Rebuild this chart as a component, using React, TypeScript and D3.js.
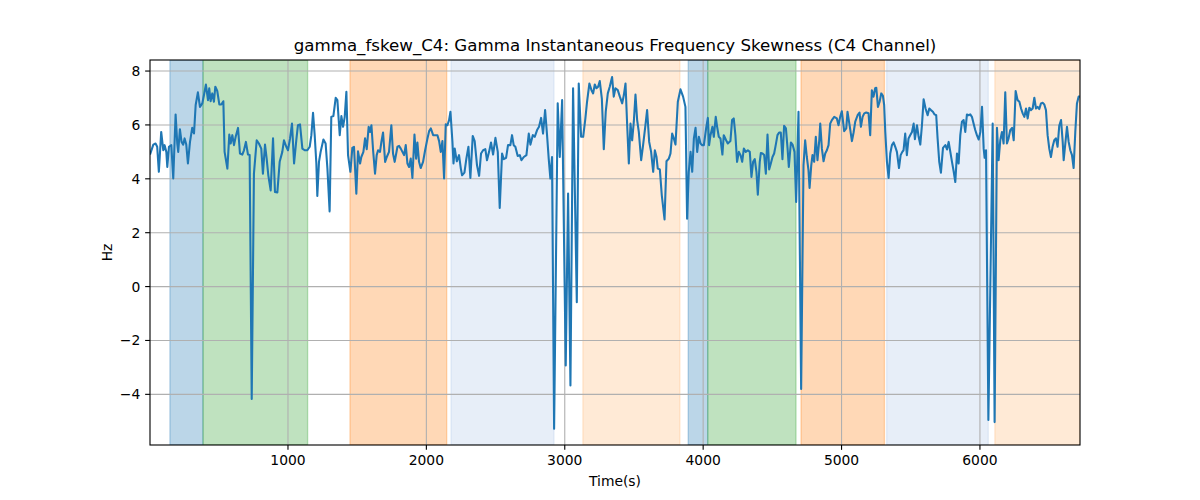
import React from "react";
import * as d3 from "d3";

// ---- data ----
const timeS: number[] = [
  3, 27, 43, 55, 67, 84, 99, 108, 121, 128,
  140, 157, 171, 188, 200, 207, 219, 231, 243, 253,
  265, 277, 292, 308, 321, 333, 349, 364, 381, 393,
  407, 422, 431, 441, 453, 465, 475, 489, 504, 518,
  533, 542, 562, 576, 586, 598, 610, 622, 639, 653,
  670, 682, 696, 711, 723, 738, 754, 774, 790, 807,
  819, 834, 846, 858, 875, 892, 906, 923, 940, 959,
  971, 988, 1000, 1015, 1029, 1044, 1060, 1072, 1087, 1104,
  1121, 1140, 1157, 1169, 1181, 1193, 1205, 1212, 1224, 1236,
  1256, 1272, 1285, 1301, 1313, 1328, 1345, 1357, 1374, 1386,
  1398, 1410, 1422, 1434, 1451, 1465, 1477, 1494, 1506, 1521,
  1530, 1545, 1557, 1569, 1583, 1593, 1603, 1615, 1629, 1641,
  1651, 1665, 1675, 1687, 1702, 1714, 1730, 1747, 1759, 1771,
  1791, 1803, 1815, 1839, 1851, 1863, 1875, 1887, 1899, 1914,
  1926, 1935, 1947, 1959, 1976, 1991, 2008, 2020, 2032, 2049,
  2063, 2080, 2092, 2104, 2116, 2128, 2140, 2152, 2164, 2174,
  2188, 2196, 2205, 2220, 2236, 2249,
  2258, 2275, 2289, 2304, 2318, 2335, 2349, 2366, 2381, 2395,
  2410, 2426, 2438, 2453, 2467, 2482, 2499, 2516, 2530, 2547,
  2559, 2576, 2590, 2607, 2619, 2631, 2643, 2660, 2675, 2687,
  2704, 2723, 2740, 2752, 2769, 2783, 2800, 2814, 2829, 2843,
  2858, 2872, 2884, 2896, 2908, 2923, 2949, 2964, 2981, 3007,
  3024, 3041, 3060, 3087, 3101, 3118, 3133, 3149, 3161, 3178,
  3193, 3205, 3217, 3229, 3241, 3253, 3268, 3282, 3296, 3311,
  3325, 3342, 3354, 3366, 3383, 3398, 3415, 3427, 3439, 3451,
  3463, 3475, 3487, 3499, 3511, 3523, 3535, 3552, 3566, 3583,
  3595, 3610, 3624, 3639, 3651, 3663, 3672, 3687, 3701, 3721,
  3735, 3752, 3764, 3776, 3788, 3800, 3817, 3836, 3855, 3872,
  3884, 3896, 3909, 3921, 3933, 3945, 3957, 3969, 3981, 3993,
  4005, 4022, 4034, 4043, 4053, 4067, 4077, 4091, 4101, 4113,
  4125, 4139, 4149, 4166, 4178, 4197, 4209, 4221, 4233, 4245,
  4258, 4270, 4282, 4294, 4308, 4323, 4337, 4349, 4361, 4373,
  4385, 4395, 4409,
  4417, 4429, 4441, 4453, 4465, 4477, 4489, 4501, 4513, 4525,
  4537, 4549, 4561, 4573, 4585, 4598, 4610, 4619, 4634, 4646,
  4660, 4672, 4689, 4708, 4725, 4737, 4749, 4761, 4769, 4781,
  4790, 4802, 4814, 4826, 4839, 4846, 4858, 4870, 4882, 4894,
  4906, 4918, 4930, 4947, 4966, 4978, 4990, 5002, 5019, 5034,
  5043, 5058, 5075, 5087, 5099, 5116, 5130, 5140, 5152, 5164,
  5178, 5195, 5207, 5219, 5231, 5243, 5251, 5263, 5275, 5287,
  5299, 5308, 5316, 5328, 5340, 5352, 5364, 5376, 5388, 5400,
  5415, 5427, 5439, 5448, 5460, 5472, 5484, 5496, 5509, 5521,
  5530, 5545, 5557, 5569, 5581, 5593, 5607, 5622, 5634, 5646,
  5660, 5672, 5684, 5694, 5706, 5718, 5733, 5750, 5762, 5774,
  5786, 5798, 5810, 5822, 5834, 5846, 5858, 5870, 5882, 5894,
  5906, 5918, 5930, 5942, 5954, 5966, 5978, 5991, 6003, 6015,
  6027, 6034, 6044, 6061, 6092, 6106, 6123, 6135, 6147, 6159,
  6171, 6183, 6195, 6207, 6219, 6232, 6244, 6258, 6272, 6285,
  6297, 6309, 6321, 6333, 6345, 6357, 6369, 6381, 6393, 6405,
  6417, 6429, 6441, 6453, 6465, 6477, 6489, 6501, 6513, 6525,
  6537, 6549, 6561, 6573, 6586, 6598, 6605, 6617, 6629, 6641,
  6653, 6665, 6677, 6689, 6701, 6713, 6722,
];

const skewHz: number[] = [
  4.90, 5.27, 5.31, 5.19, 4.26, 5.74, 5.06, 5.25, 5.00, 4.44,
  5.19, 5.25, 4.01, 6.39, 5.31, 5.00, 5.84, 5.37, 5.27, 5.50,
  5.27, 4.57, 5.37, 5.89, 5.68, 6.74, 7.21, 6.67, 6.80, 7.11,
  7.50, 6.92, 7.36, 6.88, 7.17, 6.86, 7.42, 7.26, 6.76, 6.76,
  6.88, 5.00, 4.38, 5.64, 5.31, 5.62, 5.25, 5.56, 5.89, 4.94,
  4.90, 5.06, 5.37, 4.90, 4.88, -4.17, 4.19, 5.43, 5.31, 5.12,
  4.19, 5.27, 4.75, 4.13, 3.57, 5.50, 3.51, 3.49, 4.63, 5.00,
  5.43, 5.19, 5.06, 5.50, 6.05, 4.57, 5.43, 5.99, 6.02, 5.12,
  5.06, 5.06, 5.19, 5.62, 6.45, 5.62, 4.57, 3.36, 4.63, 5.00,
  5.46, 5.31, 4.38, 2.79, 6.30, 6.33, 7.01, 6.92, 5.62, 6.33,
  5.93, 6.30, 7.23, 4.88, 4.26, 5.15, 5.19, 3.45, 5.02, 4.57,
  4.81, 5.00, 5.50, 5.10, 5.93, 5.74, 5.99, 5.06, 4.19, 4.88,
  5.06, 5.00, 5.37, 5.72, 4.63, 4.81, 5.00, 5.99, 4.94, 4.63,
  5.19, 5.22, 5.12, 4.88, 5.25, 4.57, 4.44, 4.75, 4.03, 5.64,
  4.75, 5.35, 4.63, 4.40, 4.63, 5.06, 5.50, 5.77, 5.87, 5.62,
  5.62, 5.62, 5.40, 5.00, 5.40, 4.01, 6.02, 5.99, 6.18, 6.49,
  5.40, 4.57, 5.12, 4.65, 4.88, 4.38,
  4.13, 4.23, 4.75, 5.19, 4.03, 5.59, 5.40, 4.50, 4.11, 4.94,
  5.06, 5.10, 4.69, 5.00, 5.35, 4.90, 5.52, 5.00, 2.92, 4.94,
  4.73, 4.78, 5.25, 5.25, 5.62, 5.25, 5.19, 4.85, 4.88, 4.69,
  4.81, 4.88, 5.68, 5.27, 5.62, 5.56, 5.81, 5.93, 6.26, 5.68,
  6.55, 5.62, 4.75, 4.01, 4.81, -5.28, 6.80, 4.81, 6.92, -2.93,
  3.45, -3.67, 7.36, -0.58, 7.54, 5.56, 5.56, 6.24, 6.86, 7.54,
  7.29, 7.17, 7.50, 7.36, 7.42, 7.63, 6.98, 5.10, 6.49, 7.17,
  7.42, 7.78, 7.05, 7.36, 7.29, 7.05, 6.80, 7.11, 7.54, 5.99,
  4.57, 6.05, 5.43, 6.12, 7.13, 6.18, 5.74, 4.69, 5.25, 5.99,
  6.55, 5.37, 5.00, 4.26, 5.06, 4.81, 4.38, 4.35, 3.39, 2.49,
  4.65, 4.75, 4.94, 5.68, 5.50, 5.27, 6.86, 7.32, 7.05, 6.67,
  2.52, 4.26, 5.00, 4.26, 5.50, 5.89, 5.00, 5.56, 5.31, 5.25,
  5.25, 5.89, 6.26, 5.25, 5.62, 5.93, 5.56, 6.30, 5.93, 5.56,
  5.50, 4.90, 5.62, 5.43, 5.31, 5.40, 6.18, 6.24, 5.62, 4.63,
  5.00, 4.88, 4.63, 5.12, 5.00, 5.06, 5.00, 4.07, 4.63, 4.73,
  4.26, 3.41, 4.63,
  4.96, 4.94, 4.88, 4.19, 5.64, 4.35, 4.57, 4.81, 4.94, 5.27,
  5.62, 5.72, 5.72, 4.73, 5.97, 5.87, 5.12, 4.44, 5.35, 5.27,
  5.00, 3.14, 6.49, -3.80, 4.50, 5.43, 4.81, 4.32, 3.66, 4.50,
  4.88, 4.63, 5.56, 4.69, 5.43, 6.05, 5.12, 4.65, 4.94, 5.06,
  5.25, 6.05, 6.18, 6.30, 6.24, 5.99, 6.30, 6.51, 5.77, 5.87,
  6.49, 5.99, 5.40, 5.72, 6.12, 6.36, 6.46, 5.93, 6.30, 6.43,
  6.46, 6.43, 5.62, 7.29, 7.05, 7.36, 7.38, 6.67, 6.86, 7.17,
  7.08, 6.74, 5.74, 4.63, 4.03, 4.94, 5.25, 5.35, 5.19, 5.00,
  4.40, 4.88, 5.00, 5.06, 5.68, 4.88, 5.50, 5.62, 5.74, 6.05,
  5.47, 5.99, 5.56, 5.27, 5.99, 6.95, 6.61, 6.36, 6.61, 6.55,
  6.49, 6.39, 6.36, 5.50, 4.63, 4.23, 5.15, 5.25, 5.09, 5.37,
  5.00, 4.63, 4.28, 3.88, 4.94, 4.57, 5.62, 6.12, 6.18, 5.74,
  6.39, 6.36, 6.39, 6.30, 6.05, 5.81, 5.62, 5.46, 5.74, 6.67,
  5.12, 4.78, 5.06, -4.95, 6.05, -5.03, 5.89, 4.69, 5.43, 5.74,
  5.31, 7.21, 5.31, 5.50, 5.81, 5.89, 5.43, 7.26, 6.92, 6.86,
  6.61, 6.43, 6.30, 6.61, 6.24, 6.64, 6.55, 6.61, 7.01, 6.61,
  6.67, 6.59, 6.80, 6.82, 6.76, 6.55, 5.62, 5.12, 4.81, 5.19,
  5.43, 5.50, 5.19, 5.97, 6.18, 5.37, 4.69, 5.31, 5.93, 5.37,
  5.06, 4.88, 4.40, 5.74, 6.80, 7.05, 7.05,
];

// shaded phases (start/end in seconds, kind index)
const spanStart: number[] = [147, 386, 1448, 2178, 3131, 3892, 4033, 4707, 5326, 6108];
const spanEnd: number[] = [386, 1142, 2147, 2922, 3832, 4033, 4671, 5310, 6060, 6722];
const spanKind: number[] = [0, 1, 2, 3, 4, 0, 1, 2, 3, 4];

const xTicks: number[] = [1000, 2000, 3000, 4000, 5000, 6000];
const yTicks: number[] = [-4, -2, 0, 2, 4, 6, 8];

const xDomain: [number, number] = [3, 6723];
const yDomain: [number, number] = [-5.88, 8.41];

const KIND_COLORS = ["#1f77b4", "#2ca02c", "#ff7f0e", "#aec7e8", "#ffbb78"];

const W = 1200;
const H = 500;
const M = { left: 150, right: 1080, top: 60, bottom: 445 };
const FONT = "'DejaVu Sans', sans-serif";

export default function App() {
  const x = d3.scaleLinear().domain(xDomain).range([M.left, M.right]);
  const y = d3.scaleLinear().domain(yDomain).range([M.bottom, M.top]);
  const fmt = d3.format("d");

  const pts: [number, number][] = timeS.map((t, i) => [t, skewHz[i]]);
  const line = d3
    .line<[number, number]>()
    .x((d) => x(d[0]))
    .y((d) => y(d[1]));

  const tickLen = 4.86;
  const pad = 4.86;
  const fs = 13.89;

  return (
    <svg
      width={W}
      height={H}
      style={{ position: "absolute", left: 0, top: 0, background: "#fff" }}
      fontFamily={FONT}
    >
      <defs>
        <clipPath id="plotclip">
          <rect x={M.left} y={M.top} width={M.right - M.left} height={M.bottom - M.top} />
        </clipPath>
      </defs>
      <rect x={0} y={0} width={W} height={H} fill="#fff" />
      <g clipPath="url(#plotclip)">
        {spanStart.map((s, i) => (
          <rect
            key={"sp" + i}
            x={x(s)}
            y={M.top}
            width={x(spanEnd[i]) - x(s)}
            height={M.bottom - M.top}
            fill={KIND_COLORS[spanKind[i]]}
            fillOpacity={0.3}
            stroke={KIND_COLORS[spanKind[i]]}
            strokeOpacity={0.3}
            strokeWidth={1.33}
          />
        ))}
        {xTicks.map((t) => (
          <line key={"gx" + t} x1={x(t)} x2={x(t)} y1={M.top} y2={M.bottom} stroke="#b0b0b0" strokeWidth={1.11} />
        ))}
        {yTicks.map((t) => (
          <line key={"gy" + t} x1={M.left} x2={M.right} y1={y(t)} y2={y(t)} stroke="#b0b0b0" strokeWidth={1.11} />
        ))}
        <path
          d={line(pts) || ""}
          fill="none"
          stroke="#1f77b4"
          strokeWidth={2.08}
          strokeLinejoin="round"
        />
      </g>
      <rect
        x={M.left}
        y={M.top}
        width={M.right - M.left}
        height={M.bottom - M.top}
        fill="none"
        stroke="#000"
        strokeWidth={1.11}
      />
      {xTicks.map((t) => (
        <g key={"xt" + t}>
          <line x1={x(t)} x2={x(t)} y1={M.bottom} y2={M.bottom + tickLen} stroke="#000" strokeWidth={1.11} />
          <text x={x(t)} y={M.bottom + tickLen + pad + fs * 0.76} textAnchor="middle" fontSize={fs} fill="#000">
            {fmt(t)}
          </text>
        </g>
      ))}
      {yTicks.map((t) => (
        <g key={"yt" + t}>
          <line x1={M.left - tickLen} x2={M.left} y1={y(t)} y2={y(t)} stroke="#000" strokeWidth={1.11} />
          <text
            x={M.left - tickLen - pad}
            y={y(t)}
            textAnchor="end"
            dominantBaseline="central"
            fontSize={fs}
            fill="#000"
          >
            {fmt(t).replace("-", "\u2212")}
          </text>
        </g>
      ))}
      <text x={(M.left + M.right) / 2} y={486} textAnchor="middle" fontSize={fs} fill="#000">
        Time(s)
      </text>
      <text
        transform={`translate(112, ${(M.top + M.bottom) / 2}) rotate(-90)`}
        textAnchor="middle"
        fontSize={fs}
        fill="#000"
      >
        Hz
      </text>
      <text x={(M.left + M.right) / 2} y={51} textAnchor="middle" fontSize={16.67} fill="#000">
        gamma_fskew_C4: Gamma Instantaneous Frequency Skewness (C4 Channel)
      </text>
    </svg>
  );
}
